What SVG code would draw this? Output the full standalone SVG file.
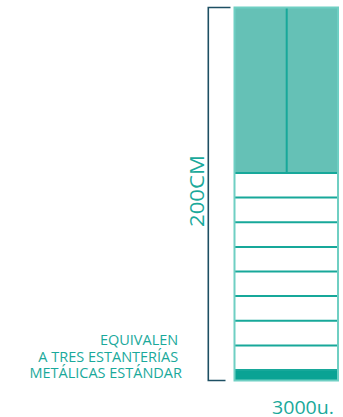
<svg xmlns="http://www.w3.org/2000/svg" width="343" height="417" viewBox="0 0 343 417">
<style>
.lbl{font-family:"Open Sans","Liberation Sans",sans-serif;fill:#1aa99b}
.frame{fill:none;stroke:#6fcfc3;stroke-width:2}
.shelf{stroke:#17a89a;stroke-width:2}
.brk{fill:none;stroke:#1d4f63;stroke-width:1.6}
</style>
<rect width="343" height="417" fill="#ffffff"/>
<g id="bracket">
<path class="brk" d="M230.5 7.5 H208.3 V380.5 H225.5"/>
</g>
<g id="height-label">
<text class="lbl" transform="translate(204.3 227) rotate(-90)" font-size="20" textLength="72" lengthAdjust="spacingAndGlyphs">200CM</text>
</g>
<g id="rack">
<rect x="234.5" y="7.5" width="103.5" height="165.5" fill="#65c1b6"/>
<rect x="234.5" y="370" width="103.5" height="10.5" fill="#0aa394"/>
<line class="shelf" x1="286.7" y1="7.5" x2="286.7" y2="173"/>
<g class="shelf">
<line x1="234.5" y1="173" x2="338" y2="173"/>
<line x1="234.5" y1="197.6" x2="338" y2="197.6"/>
<line x1="234.5" y1="222.3" x2="338" y2="222.3"/>
<line x1="234.5" y1="246.9" x2="338" y2="246.9"/>
<line x1="234.5" y1="271.5" x2="338" y2="271.5"/>
<line x1="234.5" y1="296.1" x2="338" y2="296.1"/>
<line x1="234.5" y1="320.8" x2="338" y2="320.8"/>
<line x1="234.5" y1="345.4" x2="338" y2="345.4"/>
<line x1="234.5" y1="370" x2="338" y2="370"/>
</g>
<rect class="frame" x="234.5" y="7.5" width="103.5" height="373"/>
</g>
<g id="description">
<text class="lbl" font-size="14.5" text-anchor="end">
<tspan x="182" y="344.5">EQUIVALEN</tspan>
<tspan x="182" y="361.5">A TRES ESTANTERÍAS</tspan>
<tspan x="182" y="378">METÁLICAS ESTÁNDAR</tspan>
</text>
</g>
<g id="quantity">
<text class="lbl" x="272" y="414" font-size="18.5" textLength="62" lengthAdjust="spacingAndGlyphs">3000u.</text>
</g>
</svg>
